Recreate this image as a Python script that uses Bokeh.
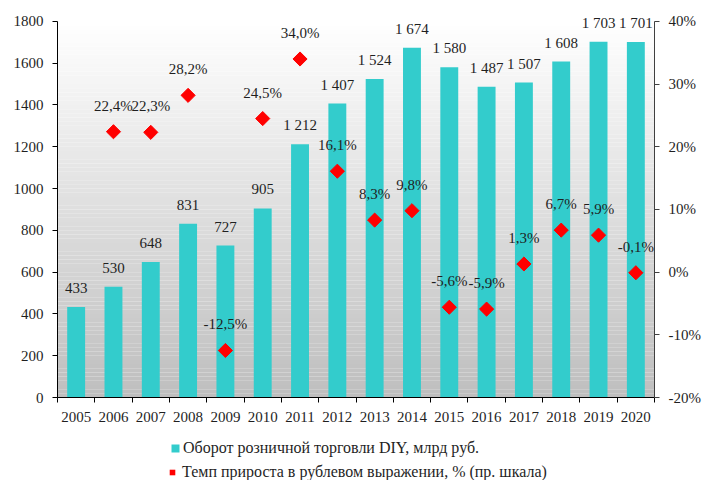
import numpy as np
from bokeh.plotting import figure
from bokeh.layouts import column
from bokeh.models import (Range1d, LinearAxis, FixedTicker, ColumnDataSource,
                          Legend, LegendItem, PrintfTickFormatter)
from bokeh.embed import file_html
from bokeh.resources import INLINE
from bokeh.core.properties import value

years = ["2005", "2006", "2007", "2008", "2009", "2010", "2011", "2012",
         "2013", "2014", "2015", "2016", "2017", "2018", "2019", "2020"]
turnover = [433, 530, 648, 831, 727, 905, 1212, 1407, 1524, 1674, 1580,
            1487, 1507, 1608, 1703, 1701]
growth_years = years[1:]
growth = [22.4, 22.3, 28.2, -12.5, 24.5, 34.0, 16.1, 8.3, 9.8, -5.6, -5.9,
          1.3, 6.7, 5.9, -0.1]
left_ticks = [0, 200, 400, 600, 800, 1000, 1200, 1400, 1600, 1800]
right_ticks = [-20, -10, 0, 10, 20, 30, 40]
bar_name = "Оборот розничной торговли DIY, млрд руб."
growth_name = "Темп прироста в рублевом выражении, % (пр. шкала)"

FONT = "Liberation Serif"
TXT = "#1f1f1f"
BAR = "#33CCCC"
RED = "#FF0000"

n = len(years)
x_bar = [i + 0.5 for i in range(n)]
x_gr = [years.index(y) + 0.5 for y in growth_years]

L_MIN, L_MAX = left_ticks[0], left_ticks[-1]
R_MIN, R_MAX = right_ticks[0], right_ticks[-1]
L_TOP = 1900  # headroom above the axis for labels
R_TOP = R_MIN + (R_MAX - R_MIN) * (L_TOP - L_MIN) / (L_MAX - L_MIN)

p = figure(width=705, height=430, output_backend="svg", toolbar_location=None,
           x_range=Range1d(0, n), y_range=Range1d(L_MIN, L_TOP),
           min_border_left=57, min_border_right=51, min_border_top=0,
           min_border_bottom=33)
p.outline_line_color = None
p.background_fill_color = "white"
p.border_fill_color = "white"
p.extra_y_ranges = {"pct": Range1d(R_MIN, R_TOP)}

# background gradient (white at top to grey at bottom)
steps = 90
edges = np.linspace(L_MIN, L_MAX, steps + 1)
cols = []
for k in range(steps):
    t = (k + 0.5) / steps
    c = int(round(190 + (255 - 190) * t))
    cols.append("#%02x%02x%02x" % (c, c, c))
p.quad(left=0, right=n, bottom=edges[:-1], top=edges[1:], fill_color=cols,
       line_color=None)

p.xgrid.visible = False
p.ygrid.ticker = FixedTicker(ticks=left_ticks)
p.ygrid.grid_line_color = "white"
p.ygrid.grid_line_width = 1.5
p.ygrid.level = "underlay"

src = ColumnDataSource(dict(x=x_bar, v=turnover,
                            lab=[f"{v:,}".replace(",", " ") for v in turnover]))
p.vbar(x="x", top="v", width=0.48, source=src, fill_color=BAR, line_color=None)
p.text(x="x", y="v", text="lab", source=src, text_align="center",
       text_baseline="middle", y_offset=-19, text_font=value(FONT),
       text_font_size="15px", text_color=TXT)

gsrc = ColumnDataSource(dict(x=x_gr, g=growth,
                             lab=[f"{g:.1f}%".replace(".", ",") for g in growth]))
p.scatter(x="x", y="g", source=gsrc, y_range_name="pct", marker="square",
          angle=np.pi / 4, size=10, fill_color=RED, line_color=RED)
p.text(x="x", y="g", text="lab", source=gsrc, y_range_name="pct",
       text_align="center", text_baseline="middle", y_offset=-26,
       text_font=value(FONT), text_font_size="15px", text_color=TXT)

# axes
ax = p.xaxis[0]
ax.ticker = FixedTicker(ticks=x_bar, minor_ticks=list(range(n + 1)))
ax.major_label_overrides = {x: y for x, y in zip(x_bar, years)}
ax.major_tick_out = 0
ax.major_tick_in = 0
ax.minor_tick_out = 5
ax.minor_tick_in = 0
ax.minor_tick_line_color = "black"
ax.axis_line_color = "black"
ax.major_label_text_font = FONT
ax.major_label_text_font_size = "15px"
ax.major_label_text_color = TXT
ax.major_label_standoff = 9

ay = p.yaxis[0]
ay.ticker = FixedTicker(ticks=left_ticks)
ay.bounds = (L_MIN, L_MAX)
ay.minor_tick_line_color = None
ay.major_tick_out = 5
ay.major_tick_in = 0
ay.axis_line_color = "black"
ay.major_tick_line_color = "black"
ay.major_label_text_font = FONT
ay.major_label_text_font_size = "15px"
ay.major_label_text_color = TXT
ay.major_label_standoff = 9

ar = LinearAxis(y_range_name="pct", ticker=FixedTicker(ticks=right_ticks),
                formatter=PrintfTickFormatter(format="%d%%"),
                bounds=(R_MIN, R_MAX))
ar.minor_tick_line_color = None
ar.major_tick_out = 5
ar.major_tick_in = 0
ar.axis_line_color = "#404040"
ar.major_tick_line_color = "#404040"
ar.major_label_text_font = FONT
ar.major_label_text_font_size = "15px"
ar.major_label_text_color = TXT
ar.major_label_standoff = 9
p.add_layout(ar, "right")

# legend in a strip below the chart (its frame aligns with the chart frame)
lf = figure(width=705, height=50, output_backend="svg", toolbar_location=None,
            x_range=Range1d(0, 1), y_range=Range1d(0, 1),
            x_axis_location=None, y_axis_location=None,
            min_border_left=0, min_border_right=0, min_border_top=0,
            min_border_bottom=0)
lf.outline_line_color = None
lf.xgrid.visible = False
lf.ygrid.visible = False
lb = lf.vbar(x=[-5], top=[-5], bottom=[-6], width=0.5, fill_color=BAR,
             line_color=None)
lp = lf.scatter(x=[-5], y=[-5], marker="square", angle=np.pi / 4,
                fill_color=RED, line_color=None)
common = dict(orientation="vertical", label_text_font=FONT,
              label_text_font_size="16px", label_text_color=TXT,
              label_standoff=3, padding=0, margin=0, label_height=16,
              border_line_color=None, background_fill_alpha=0)
leg1 = Legend(items=[LegendItem(label=bar_name, renderers=[lb])],
              location=(113, 23), glyph_width=10, glyph_height=10, **common)
leg2 = Legend(items=[LegendItem(label=growth_name, renderers=[lp])],
              location=(108, -1), glyph_width=14, glyph_height=14, **common)
lf.add_layout(leg1, "center")
lf.add_layout(leg2, "center")

layout = column(p, lf, spacing=0)
open("out.html", "w").write(file_html(layout, INLINE))
